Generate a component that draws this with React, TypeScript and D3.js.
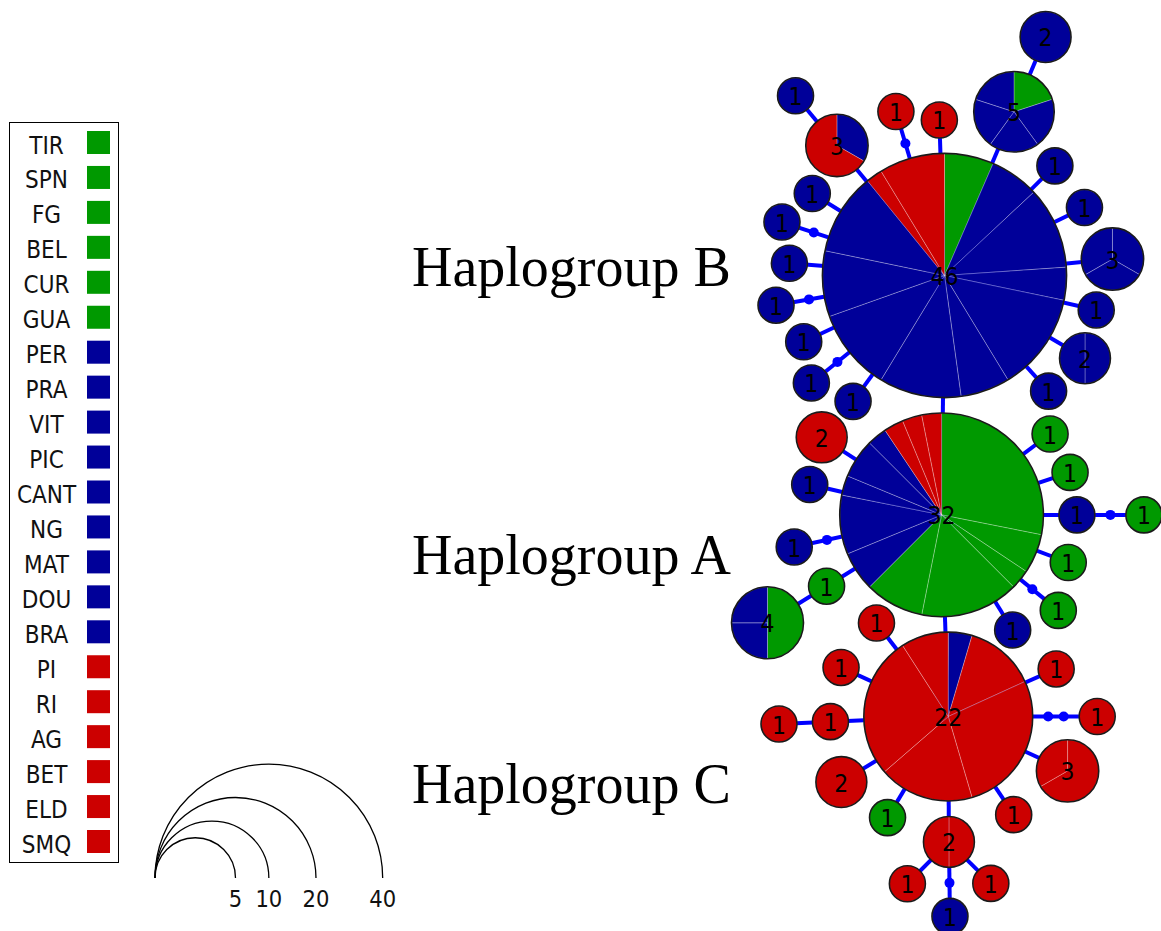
import React from 'react';
import * as d3 from 'd3';

// populations, grouped by the colour they get in the pies and the legend
const greenPops = ['TIR', 'SPN', 'FG', 'BEL', 'CUR', 'GUA'];
const bluePops = ['PER', 'PRA', 'VIT', 'PIC', 'CANT', 'NG', 'MAT', 'DOU', 'BRA'];
const redPops = ['PI', 'RI', 'AG', 'BET', 'ELD', 'SMQ'];
const populations = [...greenPops, ...bluePops, ...redPops];

// haplotypes: parent node, bearing of the link (deg, clockwise from north),
// number of mutational steps on the link, and counts per population
type Hap = { id: string; parent?: string; bearing?: number; steps?: number; counts: [string, number][] };

const haplogroupB: Hap[] = [
  { id: 'B', counts: [['TIR', 3], ['PER', 3], ['PRA', 5], ['VIT', 2], ['PIC', 6], ['CANT', 3], ['NG', 5], ['MAT', 5], ['DOU', 4], ['BRA', 5], ['PI', 1], ['RI', 4]] },
  { id: 'B1', parent: 'B', bearing: 320.4, steps: 1, counts: [['PER', 1], ['PI', 2]] },
  { id: 'B2', parent: 'B1', bearing: 320.2, steps: 1, counts: [['PRA', 1]] },
  { id: 'B3', parent: 'B', bearing: 343.5, steps: 2, counts: [['RI', 1]] },
  { id: 'B4', parent: 'B', bearing: 358.1, steps: 1, counts: [['PI', 1]] },
  { id: 'B5', parent: 'B', bearing: 23, steps: 1, counts: [['TIR', 1], ['PER', 1], ['PRA', 1], ['VIT', 1], ['PIC', 1]] },
  { id: 'B6', parent: 'B5', bearing: 22.9, steps: 1, counts: [['NG', 2]] },
  { id: 'B7', parent: 'B', bearing: 45.2, steps: 1, counts: [['PIC', 1]] },
  { id: 'B8', parent: 'B', bearing: 64.1, steps: 1, counts: [['CANT', 1]] },
  { id: 'B9', parent: 'B', bearing: 84.4, steps: 1, counts: [['PER', 1], ['PIC', 1], ['MAT', 1]] },
  { id: 'B10', parent: 'B', bearing: 102.8, steps: 1, counts: [['NG', 1]] },
  { id: 'B11', parent: 'B', bearing: 120.5, steps: 1, counts: [['VIT', 1], ['DOU', 1]] },
  { id: 'B12', parent: 'B', bearing: 138, steps: 1, counts: [['BRA', 1]] },
  { id: 'B13', parent: 'B', bearing: 216, steps: 1, counts: [['MAT', 1]] },
  { id: 'B14', parent: 'B', bearing: 231.1, steps: 2, counts: [['DOU', 1]] },
  { id: 'B15', parent: 'B', bearing: 244.8, steps: 1, counts: [['PER', 1]] },
  { id: 'B16', parent: 'B', bearing: 260, steps: 2, counts: [['PRA', 1]] },
  { id: 'B17', parent: 'B', bearing: 274.5, steps: 1, counts: [['PIC', 1]] },
  { id: 'B18', parent: 'B', bearing: 288.2, steps: 2, counts: [['CANT', 1]] },
  { id: 'B19', parent: 'B', bearing: 301.8, steps: 1, counts: [['BRA', 1]] },
];

const haplogroupA: Hap[] = [
  { id: 'A', parent: 'B', bearing: 180.7, steps: 1, counts: [['TIR', 9], ['SPN', 2], ['FG', 1], ['BEL', 5], ['CUR', 3], ['PER', 2], ['PRA', 3], ['VIT', 1], ['PIC', 2], ['CANT', 1], ['PI', 1], ['RI', 1], ['AG', 1]] },
  { id: 'A1', parent: 'A', bearing: 302.9, steps: 1, counts: [['AG', 2]] },
  { id: 'A2', parent: 'A', bearing: 283, steps: 1, counts: [['NG', 1]] },
  { id: 'A3', parent: 'A', bearing: 257.7, steps: 2, counts: [['PER', 1]] },
  { id: 'A4', parent: 'A', bearing: 238.2, steps: 1, counts: [['GUA', 1]] },
  { id: 'A5', parent: 'A4', bearing: 238.2, steps: 1, counts: [['SPN', 2], ['PRA', 1], ['CANT', 1]] },
  { id: 'A6', parent: 'A', bearing: 53.3, steps: 1, counts: [['BEL', 1]] },
  { id: 'A7', parent: 'A', bearing: 71.7, steps: 1, counts: [['FG', 1]] },
  { id: 'A8', parent: 'A', bearing: 90, steps: 1, counts: [['MAT', 1]] },
  { id: 'A9', parent: 'A8', bearing: 90, steps: 2, counts: [['CUR', 1]] },
  { id: 'A10', parent: 'A', bearing: 110.6, steps: 1, counts: [['TIR', 1]] },
  { id: 'A11', parent: 'A', bearing: 129.3, steps: 2, counts: [['SPN', 1]] },
  { id: 'A12', parent: 'A', bearing: 148.3, steps: 1, counts: [['DOU', 1]] },
];

const haplogroupC: Hap[] = [
  { id: 'C', parent: 'A', bearing: 178.1, steps: 1, counts: [['PER', 1], ['PI', 3], ['RI', 6], ['AG', 4], ['BET', 6], ['ELD', 2]] },
  { id: 'C1', parent: 'C', bearing: 322.5, steps: 1, counts: [['BET', 1]] },
  { id: 'C2', parent: 'C', bearing: 294.6, steps: 1, counts: [['PI', 1]] },
  { id: 'C3', parent: 'C', bearing: 267.5, steps: 1, counts: [['ELD', 1]] },
  { id: 'C4', parent: 'C3', bearing: 267.4, steps: 1, counts: [['SMQ', 1]] },
  { id: 'C5', parent: 'C', bearing: 238.5, steps: 1, counts: [['RI', 2]] },
  { id: 'C6', parent: 'C', bearing: 211, steps: 1, counts: [['BEL', 1]] },
  { id: 'C7', parent: 'C', bearing: 179.7, steps: 1, counts: [['PI', 1], ['AG', 1]] },
  { id: 'C8', parent: 'C7', bearing: 224.8, steps: 1, counts: [['RI', 1]] },
  { id: 'C9', parent: 'C7', bearing: 179.2, steps: 2, counts: [['VIT', 1]] },
  { id: 'C10', parent: 'C7', bearing: 134.7, steps: 1, counts: [['BET', 1]] },
  { id: 'C11', parent: 'C', bearing: 146.3, steps: 1, counts: [['AG', 1]] },
  { id: 'C12', parent: 'C', bearing: 114.5, steps: 1, counts: [['PI', 2], ['SMQ', 1]] },
  { id: 'C13', parent: 'C', bearing: 90, steps: 3, counts: [['ELD', 1]] },
  { id: 'C14', parent: 'C', bearing: 66.2, steps: 1, counts: [['RI', 1]] },
];

const groupLabels = ['Haplogroup B', 'Haplogroup A', 'Haplogroup C'];
const sizeLegendValues = [5, 10, 20, 40];

const GREEN = '#009900';
const BLUE = '#000099';
const RED = '#cc0000';
const LINK = '#0000ff';

const popColor = (p: string) =>
  greenPops.includes(p) ? GREEN : bluePops.includes(p) ? BLUE : RED;

const total = (h: Hap) => d3.sum(h.counts, (c) => c[1]);

export default function App() {
  const width = 1161;
  const height = 931;

  const rScale = d3.scaleSqrt().domain([0, 40]).range([0, 18 * Math.sqrt(40)]);
  const stepLen = 15.5;
  const root = { x: 944.5, y: 275.5 };

  const haps = [...haplogroupB, ...haplogroupA, ...haplogroupC];

  // lay the network out from the root, parents always come first
  const pos = new Map<string, { x: number; y: number; r: number }>();
  const links: { x1: number; y1: number; x2: number; y2: number; dots: { x: number; y: number }[] }[] = [];
  haps.forEach((h) => {
    const r = rScale(total(h));
    if (!h.parent) {
      pos.set(h.id, { ...root, r });
      return;
    }
    const p = pos.get(h.parent)!;
    const a = ((h.bearing ?? 0) * Math.PI) / 180;
    const steps = h.steps ?? 1;
    const d = p.r + r + stepLen * steps;
    const x = p.x + d * Math.sin(a);
    const y = p.y - d * Math.cos(a);
    pos.set(h.id, { x, y, r });
    const dots = d3.range(1, steps).map((k) => ({
      x: p.x + (p.r + stepLen * k) * Math.sin(a),
      y: p.y - (p.r + stepLen * k) * Math.cos(a),
    }));
    links.push({ x1: p.x, y1: p.y, x2: x, y2: y, dots });
  });

  const pie = d3
    .pie<[string, number]>()
    .sort(null)
    .value((d) => d[1]);

  const legendX = 9.5;
  const legendY = 122.5;
  const rowH = 34.95;

  const labelY = [286, 574, 803];

  const arcBaseX = 155;
  const arcBaseY = 878;

  return (
    <svg width={width} height={height} style={{ position: 'absolute', left: 0, top: 0, background: '#fff' }}>
      {/* population legend */}
      <rect x={legendX} y={legendY} width={109} height={740} fill="none" stroke="#000" strokeWidth={1} />
      {populations.map((p, i) => (
        <g key={p}>
          <text
            transform={`translate(46.5,${153.5 + i * rowH}) scale(0.9,1)`}
            textAnchor="middle"
            fontFamily="DejaVu Sans"
            fontSize={24}
            fill="#111"
          >
            {p}
          </text>
          <rect x={87} y={131 + i * rowH} width={23} height={23} fill={popColor(p)} />
        </g>
      ))}

      {/* circle size legend */}
      {sizeLegendValues.map((v) => {
        const r = rScale(v);
        const path = d3.path();
        path.arc(arcBaseX + r, arcBaseY, r, Math.PI, 2 * Math.PI);
        return (
          <g key={v}>
            <path d={path.toString()} fill="none" stroke="#000" strokeWidth={1.3} />
            <text
              transform={`translate(${arcBaseX + 2 * r},907) scale(0.92,1)`}
              textAnchor="middle"
              fontFamily="DejaVu Sans"
              fontSize={23}
              fill="#111"
            >
              {v}
            </text>
          </g>
        );
      })}

      {/* haplogroup names */}
      {groupLabels.map((t, i) => (
        <text key={t} x={412} y={labelY[i]} fontFamily="Liberation Serif" fontSize={56} fill="#000">
          {t}
        </text>
      ))}

      {/* links */}
      {links.map((l, i) => (
        <g key={i}>
          <line x1={l.x1} y1={l.y1} x2={l.x2} y2={l.y2} stroke={LINK} strokeWidth={4} />
          {l.dots.map((d, j) => (
            <circle key={j} cx={d.x} cy={d.y} r={5} fill={LINK} />
          ))}
        </g>
      ))}

      {/* haplotype pies */}
      {haps.map((h) => {
        const p = pos.get(h.id)!;
        const arc = d3.arc<d3.PieArcDatum<[string, number]>>().innerRadius(0).outerRadius(p.r);
        return (
          <g key={h.id} transform={`translate(${p.x},${p.y})`}>
            {pie(h.counts).map((s, i) => (
              <path
                key={i}
                d={arc(s) ?? ''}
                fill={popColor(s.data[0])}
                stroke="rgba(255,255,255,0.35)"
                strokeWidth={0.8}
              />
            ))}
            <circle r={p.r} fill="none" stroke="#1a1a1a" strokeWidth={1.6} />
            <text
              transform="translate(0,1) scale(0.88,1)"
              textAnchor="middle"
              dominantBaseline="central"
              fontFamily="DejaVu Sans"
              fontSize={25}
              fill="#000"
            >
              {total(h)}
            </text>
          </g>
        );
      })}
    </svg>
  );
}
